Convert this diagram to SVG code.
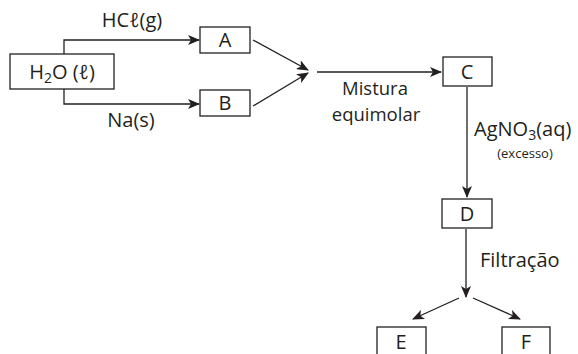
<svg xmlns="http://www.w3.org/2000/svg" width="578" height="354" viewBox="0 0 578 354">
<style>
.box{fill:#fff;stroke:#231f20;stroke-width:1.3}
.ln{fill:none;stroke:#231f20;stroke-width:1.3}
text{font-family:"Open Sans","Liberation Sans",sans-serif;font-size:20px;fill:#231f20}
.c{text-anchor:middle}
.s{font-size:13px}
.m{font-size:18.5px}
</style>
<defs>
<marker id="ar" viewBox="0 0 12 10" refX="11" refY="5" markerWidth="12" markerHeight="10" markerUnits="userSpaceOnUse" orient="auto">
<path d="M0,0 L12,5 L0,10 L3,5 Z" fill="#231f20"/>
</marker>
</defs>
<rect width="578" height="354" fill="#fff"/>
<g id="connectors">
<path class="ln" d="M64,54 V40 H199" marker-end="url(#ar)"/>
<path class="ln" d="M64,89 V104 H199" marker-end="url(#ar)"/>
<path class="ln" d="M253,40 L308,70" marker-end="url(#ar)"/>
<path class="ln" d="M253,106 L308,73" marker-end="url(#ar)"/>
<path class="ln" d="M317,72 H441" marker-end="url(#ar)"/>
<path class="ln" d="M467,87 V197" marker-end="url(#ar)"/>
<path class="ln" d="M466,229 V297" marker-end="url(#ar)"/>
<path class="ln" d="M459,298 L413,319" marker-end="url(#ar)"/>
<path class="ln" d="M473,298 L520,319" marker-end="url(#ar)"/>
<text x="132" y="27" class="c">HCℓ(g)</text>
<text x="131" y="127" class="c">Na(s)</text>
<text x="375" y="95" class="c m">Mistura</text>
<text x="376" y="121" class="c m">equimolar</text>
<text x="474" y="136">AgNO<tspan font-size="14" dy="4">3</tspan><tspan dy="-4">(aq)</tspan></text>
<text x="525" y="158" class="c s">(excesso)</text>
<text x="480" y="267">Filtração</text>
</g>
<g id="h2o"><rect class="box" x="10" y="54" width="104" height="35"/><text x="62" y="79" class="c">H<tspan font-size="14" dy="4">2</tspan><tspan dy="-4">O (ℓ)</tspan></text></g>
<g id="A"><rect class="box" x="200" y="27" width="50" height="26"/><text x="225" y="47" class="c">A</text></g>
<g id="B"><rect class="box" x="200" y="90" width="50" height="26"/><text x="225" y="110" class="c">B</text></g>
<g id="C"><rect class="box" x="443" y="57" width="49" height="29"/><text x="467" y="79" class="c">C</text></g>
<g id="D"><rect class="box" x="442" y="199" width="50" height="29"/><text x="467" y="221" class="c">D</text></g>
<g id="E"><rect class="box" x="377" y="327" width="49" height="35"/><text x="401" y="349" class="c">E</text></g>
<g id="F"><rect class="box" x="502" y="327" width="48" height="35"/><text x="526" y="349" class="c">F</text></g>
</svg>
